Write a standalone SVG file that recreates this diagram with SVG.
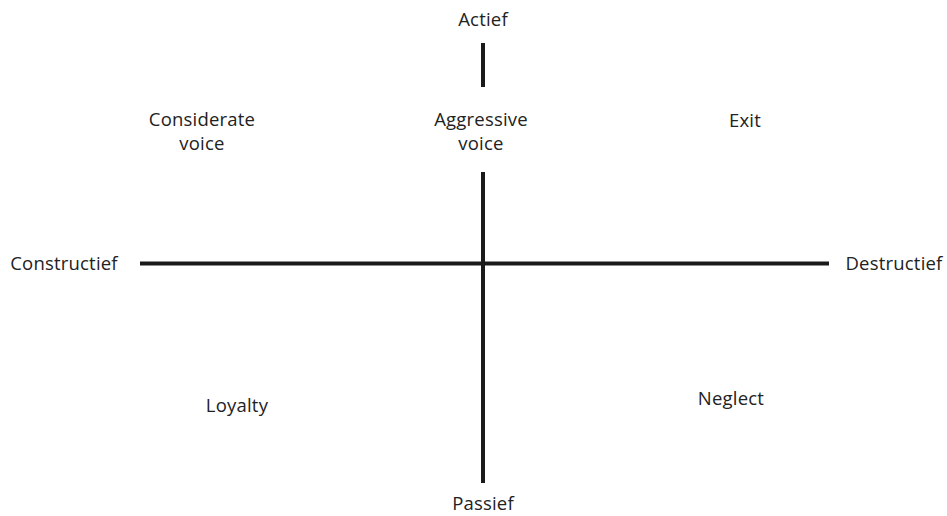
<svg xmlns="http://www.w3.org/2000/svg" width="947" height="516" viewBox="0 0 947 516">
<style>
text{font-family:"Open Sans","Liberation Sans",sans-serif;font-size:18.5px;fill:#222;text-anchor:middle;letter-spacing:0.2px}
.ax{stroke:#1a1a1a;stroke-width:4;fill:none}
</style>
<rect width="947" height="516" fill="#fff"/>
<g id="connectors">
<line class="ax" x1="483" y1="43" x2="483" y2="87"/>
<line class="ax" x1="483" y1="172" x2="483" y2="483"/>
<line class="ax" x1="140" y1="263.5" x2="829" y2="263.5"/>
</g>
<g id="actief"><text x="483" y="26">Actief</text></g>
<g id="aggressive"><text x="481" y="126">Aggressive</text><text x="481" y="150">voice</text></g>
<g id="considerate"><text x="202" y="126">Considerate</text><text x="202" y="150">voice</text></g>
<g id="exit"><text x="745" y="127">Exit</text></g>
<g id="constructief"><text x="64" y="270">Constructief</text></g>
<g id="destructief"><text x="894" y="270">Destructief</text></g>
<g id="loyalty"><text x="237" y="412">Loyalty</text></g>
<g id="neglect"><text x="731" y="405">Neglect</text></g>
<g id="passief"><text x="483" y="510">Passief</text></g>
</svg>
